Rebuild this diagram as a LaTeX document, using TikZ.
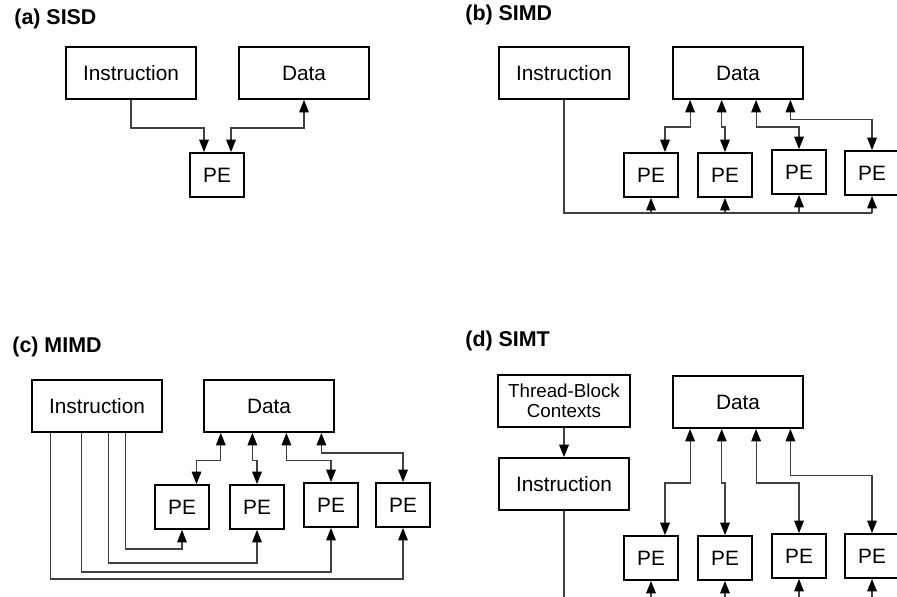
\documentclass[tikz,border=0pt]{standalone}
\usepackage{fontspec}
\setmainfont{Liberation Sans}
\usetikzlibrary{arrows.meta}

\tikzset{
  >={Triangle[length=6.2pt,width=4.8pt,color=black]},
  box/.style={draw, line width=0.9pt, minimum width=65pt, minimum height=26pt,
    inner sep=0pt, font=\fontsize{10.4}{12}\selectfont},
  pe/.style={box, minimum width=27pt, minimum height=22pt},
  ctx/.style={box, minimum width=66pt, align=center,
    font=\fontsize{9.4}{10}\selectfont},
  title/.style={anchor=base west, inner sep=0pt,
    font=\fontsize{10.7}{12}\selectfont\bfseries},
  wire/.style={draw=black!75, line width=0.6pt},
}

\begin{document}
\begin{tikzpicture}[x=0.5pt,y=-0.5pt]
\useasboundingbox (0,0) rectangle (897,596);
\clip (0,0) rectangle (897,596);

% (a) one instruction stream, one data stream
\node[title] at (14,24) {(a) SISD};
\node[box] (sisdIns) at (131,73) {Instruction};
\node[box] (sisdData) at (304,73) {Data};
\node[pe] (sisdPE) at (217,175) {PE};
\draw[wire,->] (sisdIns.south) -- ++(0,28) -| ([shift={(-13,0)}]sisdPE.north);
\draw[wire,<->] (sisdData.south) -- ++(0,28) -| ([shift={(14,0)}]sisdPE.north);

% (b) one instruction bus feeding all PEs
\node[title] at (465,20) {(b) SIMD};
\node[box] (simdIns) at (564,73) {Instruction};
\node[box] (simdData) at (738,73) {Data};
\foreach \n/\x/\y in {1/651/175, 2/725/175, 3/799/172, 4/872/173}
    \node[pe] (simdPE\n) at (\x,\y) {PE};
\coordinate (simdBus) at (0,213);
\draw[wire] (simdIns.south) |- (simdPE4.south |- simdBus);
\foreach \n in {1,...,4}
    \draw[wire,->] (simdPE\n.south |- simdBus) -- (simdPE\n.south);
\foreach \n/\dx/\px/\dy in {1/18/14/27, 2/49.6/0/27, 3/84/0/27, 4/118.3/0/19.3}
    \draw[wire,<->] ([shift={(\dx,0)}]simdData.south west) -- ++(0,\dy)
        -| ([shift={(\px,0)}]simdPE\n.north);

% (c) a separate instruction line per PE
\node[title] at (12,352) {(c) MIMD};
\node[box] (mimdIns) at (97,406) {Instruction};
\node[box] (mimdData) at (269,406) {Data};
\foreach \n/\x/\y in {1/182/507, 2/257/507, 3/331/505, 4/403/505}
    \node[pe] (mimdPE\n) at (\x,\y) {PE};
\foreach \n/\dx/\dy in {1/94/116, 2/77.3/130, 3/50/139, 4/19/146}
    \draw[wire,->] ([shift={(\dx,0)}]mimdIns.south west) -- ++(0,\dy)
        -| (mimdPE\n.south);
\foreach \n/\dx/\px/\dy in {1/17.7/14.5/27.6, 2/49.3/0/27.6, 3/83.3/0/27.6, 4/118.3/0/20}
    \draw[wire,<->] ([shift={(\dx,0)}]mimdData.south west) -- ++(0,\dy)
        -| ([shift={(\px,0)}]mimdPE\n.north);

% (d) thread-block contexts select the instruction
\node[title] at (465,346) {(d) SIMT};
\node[ctx] (simtCtx) at (564,401) {Thread-Block\\Contexts};
\node[box] (simtIns) at (564,484) {Instruction};
\node[box] (simtData) at (738,402) {Data};
\foreach \n/\x/\y in {1/651/558, 2/725/558, 3/799/556, 4/872/556}
    \node[pe] (simtPE\n) at (\x,\y) {PE};
\draw[wire,->] (simtCtx.south) -- (simtIns.north);
\coordinate (simtBus) at (0,614);
\draw[wire] (simtIns.south) |- (simtPE4.south |- simtBus);
\foreach \n in {1,...,4}
    \draw[wire,->] (simtPE\n.south |- simtBus) -- (simtPE\n.south);
\foreach \n/\dx/\px/\dy in {1/18/14/54, 2/49.6/0/54, 3/84/0/54, 4/118.3/0/46.3}
    \draw[wire,<->] ([shift={(\dx,0)}]simtData.south west) -- ++(0,\dy)
        -| ([shift={(\px,0)}]simtPE\n.north);

\end{tikzpicture}
\end{document}
